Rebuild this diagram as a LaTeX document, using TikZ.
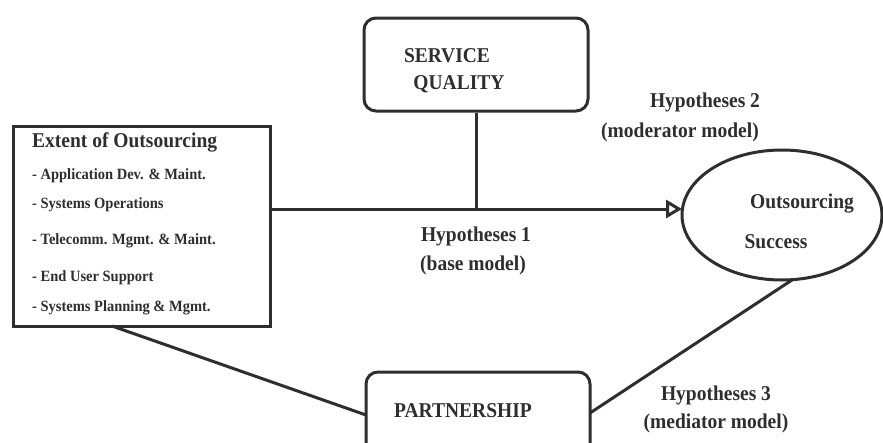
\documentclass[tikz,border=0pt]{standalone}
\usepackage{fontspec}
\usepackage{graphicx}
\setmainfont{Liberation Serif}
\usetikzlibrary{arrows.meta,shapes.geometric}
\definecolor{ink}{HTML}{2E2E2E}
\newcommand\tallstr[1]{\scalebox{1}[1.08]{#1}}
\begin{document}
\begin{tikzpicture}[x=1pt,y=-1pt,
  box/.style={draw=ink,line width=3pt,inner sep=0pt},
  lbl/.style={text=ink,font=\fontsize{19.5}{22}\selectfont\bfseries,inner sep=0pt,align=center},
  item/.style={text=ink,font=\fontsize{14.5}{16}\selectfont\bfseries,inner sep=0pt,anchor=west},
  conn/.style={draw=ink,line width=3pt}]
\useasboundingbox (0,0) rectangle (883,442);
\clip (0,0) rectangle (883,442);
\fill[white] (0,0) rectangle (883,442);
% boxes
\node[box,minimum width=257pt,minimum height=200pt] (ext) at (141.5,226) {};
\node[box,rounded corners=12pt,minimum width=224pt,minimum height=93pt] (sq) at (476,64.5) {};
\node[box,rounded corners=12pt,minimum width=224pt,minimum height=98pt] (pt) at (478,421) {};
\node[draw=ink,line width=3pt,ellipse,minimum width=200pt,minimum height=130pt,inner sep=0pt] (os) at (782,215) {};
% texts
\node[lbl,anchor=west] (t0) at (32,142) {\tallstr{Extent of Outsourcing}};
\node[item] (t1) at (32,176) {\tallstr{- Application Dev. \& Maint.}};
\node[item] (t2) at (32,205) {\tallstr{- Systems Operations}};
\node[item] (t3) at (32,241) {\tallstr{- Telecomm. Mgmt. \& Maint.}};
\node[item] (t4) at (32,278) {\tallstr{- End User Support}};
\node[item] (t5) at (32,308) {\tallstr{- Systems Planning \& Mgmt.}};
\node[lbl] (s1) at (447,56) {\tallstr{SERVICE}};
\node[lbl] (s2) at (459,84) {\tallstr{QUALITY}};
\node[lbl] (h2a) at (705,102) {\tallstr{Hypotheses 2}};
\node[lbl] (h2b) at (680,132) {\tallstr{(moderator model)}};
\node[lbl] (h1a) at (476,236) {\tallstr{Hypotheses 1}};
\node[lbl] (h1b) at (473,265) {\tallstr{(base model)}};
\node[lbl] (o1) at (802,204) {\tallstr{Outsourcing}};
\node[lbl] (o2) at (776,242) {\tallstr{Success}};
\node[lbl] (p1) at (463,411) {\tallstr{PARTNERSHIP}};
\node[lbl] (h3a) at (716,395) {\tallstr{Hypotheses 3}};
\node[lbl] (h3b) at (716,423) {\tallstr{(mediator model)}};
% connectors
\coordinate (a1) at (ext.east |- 0,209);
\coordinate (a2) at (682,209);
\draw[conn,-{Triangle[open,length=16pt,width=18pt,line width=3pt]}] (a1) -- (a2);
\coordinate (v2) at (sq.south |- 0,209);
\draw[conn] (sq.south) -- (v2);
\coordinate (e1) at (112,326);
\coordinate (p2) at (366,415);
\draw[conn] (e1) -- (p2);
\coordinate (e2) at (792,280);
\coordinate (p3) at (590,413);
\draw[conn] (e2) -- (p3);
\end{tikzpicture}
\end{document}
